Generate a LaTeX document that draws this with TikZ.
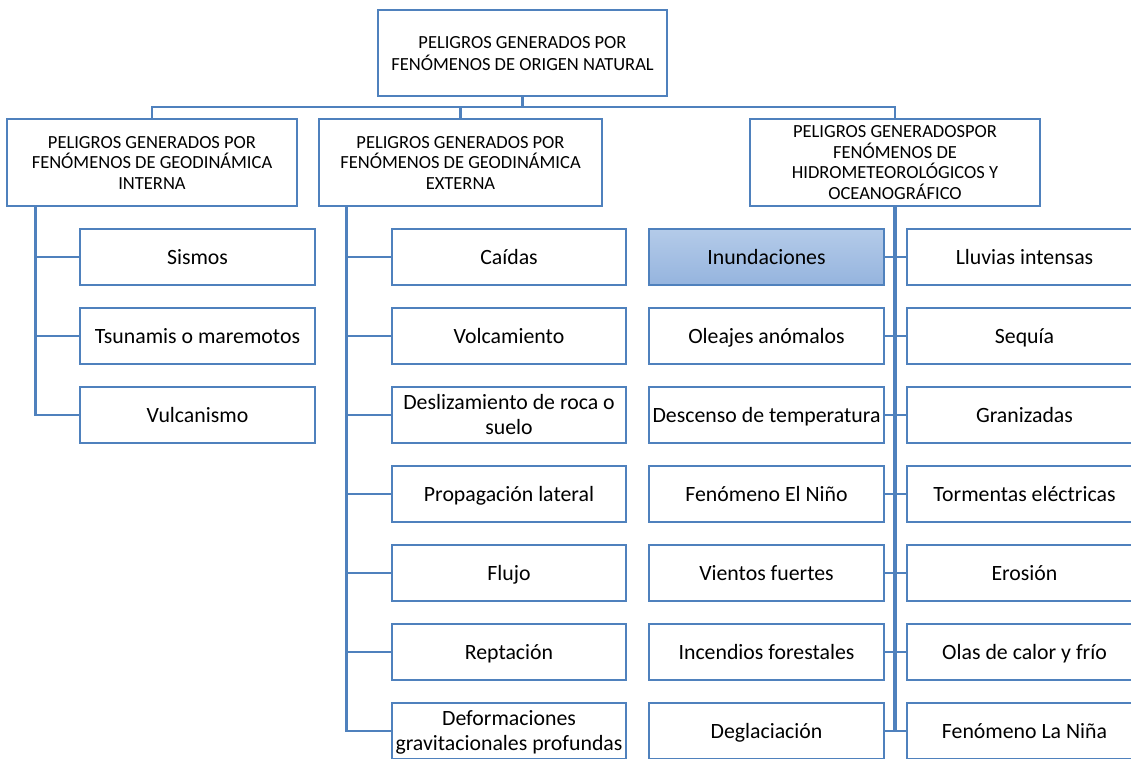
\documentclass[tikz,border=0pt]{standalone}
\usepackage{fontspec}
\setmainfont{Carlito}
\definecolor{lineblue}{RGB}{79,129,189}
\definecolor{filltop}{RGB}{180,203,233}
\definecolor{fillbot}{RGB}{149,180,222}
\begin{document}
\begin{tikzpicture}[x=1pt,y=-1pt,
  box/.style={draw=lineblue,line width=2.9pt,fill=white,minimum width=235pt,minimum height=56pt,inner sep=1pt,align=center,font=\fontsize{21.8}{24.5}\selectfont,text height=15pt,text depth=1pt},
  twoline/.style={text height=39.5pt},
  head/.style={draw=lineblue,line width=2.9pt,fill=white,minimum height=87pt,inner sep=1pt,align=center,font=\fontsize{18.5}{20.5}\selectfont,text depth=1pt},
  hl/.style={box,top color=filltop,bottom color=fillbot},
  conn/.style={draw=lineblue,line width=2.9pt}]
\useasboundingbox (0,0) rectangle (1131,758);
\clip (0,0) rectangle (1131,758);
\coordinate (bus) at (0,107);
% headers
\node[head,minimum width=289pt,minimum height=86pt,font=\fontsize{18.5}{22}\selectfont,text height=35pt] (T) at (522.5,53) {PELIGROS GENERADOS POR\\FENÓMENOS DE ORIGEN NATURAL};
\node[head,minimum width=290pt,text height=54pt] (L) at (152,162.5) {PELIGROS GENERADOS POR\\FENÓMENOS DE GEODINÁMICA\\INTERNA};
\node[head,minimum width=283pt,text height=54pt] (M) at (460.5,162.5) {PELIGROS GENERADOS POR\\FENÓMENOS DE GEODINÁMICA\\EXTERNA};
\node[head,minimum width=290pt,text height=74.5pt] (R) at (895,162.5) {PELIGROS GENERADOSPOR\\FENÓMENOS DE\\HIDROMETEOROLÓGICOS Y\\OCEANOGRÁFICO};
% column 1
\node[box] (a1) at (197.5,257) {Sismos};
\node[box] (a2) at (197.5,336) {Tsunamis o maremotos};
\node[box] (a3) at (197.5,415) {Vulcanismo};
% column 2
\node[box,minimum width=234pt] (b1) at (509,257) {Caídas};
\node[box,minimum width=234pt] (b2) at (509,336) {Volcamiento};
\node[box,twoline,minimum width=234pt] (b3) at (509,415) {Deslizamiento de roca o\\suelo};
\node[box,minimum width=234pt] (b4) at (509,494) {Propagación lateral};
\node[box,minimum width=234pt] (b5) at (509,573) {Flujo};
\node[box,minimum width=234pt] (b6) at (509,652) {Reptación};
\node[box,twoline,minimum width=234pt] (b7) at (509,731) {Deformaciones\\gravitacionales profundas};
% column 3
\node[hl] (c1) at (766.5,257) {Inundaciones};
\node[box] (c2) at (766.5,336) {Oleajes anómalos};
\node[box] (c3) at (766.5,415) {Descenso de temperatura};
\node[box] (c4) at (766.5,494) {Fenómeno El Niño};
\node[box] (c5) at (766.5,573) {Vientos fuertes};
\node[box] (c6) at (766.5,652) {Incendios forestales};
\node[box] (c7) at (766.5,731) {Deglaciación};
% column 4
\node[box] (d1) at (1024.5,257) {Lluvias intensas};
\node[box] (d2) at (1024.5,336) {Sequía};
\node[box] (d3) at (1024.5,415) {Granizadas};
\node[box] (d4) at (1024.5,494) {Tormentas eléctricas};
\node[box] (d5) at (1024.5,573) {Erosión};
\node[box] (d6) at (1024.5,652) {Olas de calor y frío};
\node[box] (d7) at (1024.5,731) {Fenómeno La Niña};
% connectors
\draw[conn] (T.south) -- (T.south |- bus);
\draw[conn] (L.north) -- (L.north |- bus) -| (R.north);
\draw[conn] (M.north) -- (M.north |- bus);
% left trunk
\coordinate (lt) at ([xshift=30pt]L.south west);
\draw[conn] (lt) |- (a3.west);
\foreach \n in {a1,a2} \draw[conn] (lt |- \n.west) -- (\n.west);
% middle trunk
\coordinate (mt) at ([xshift=29pt]M.south west);
\draw[conn] (mt) |- (b7.west);
\foreach \n in {b1,b2,b3,b4,b5,b6} \draw[conn] (mt |- \n.west) -- (\n.west);
% right trunk
\draw[conn,line width=3.8pt] (R.south) -- (R.south |- c7.east);
\foreach \i in {1,...,7} \draw[conn] (c\i.east) -- (d\i.west);
\end{tikzpicture}
\end{document}
